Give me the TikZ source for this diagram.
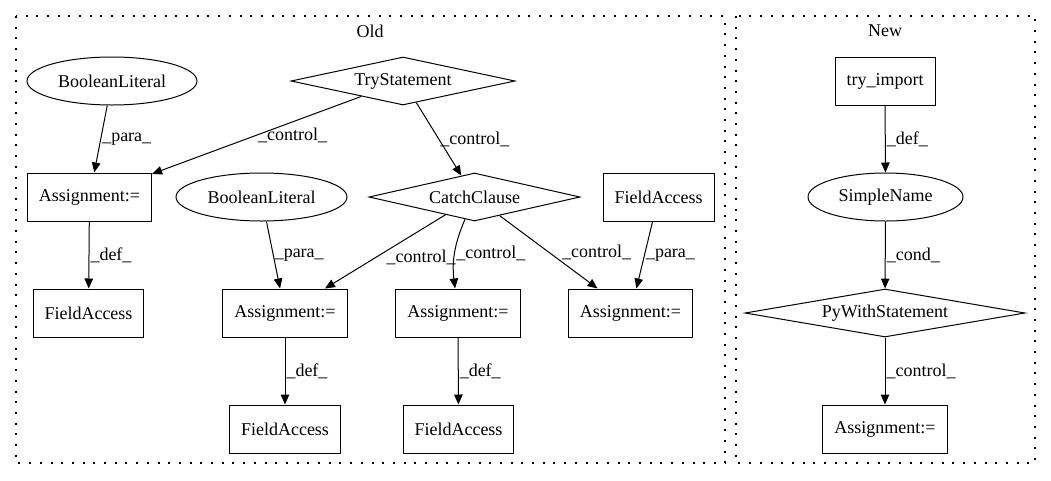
\documentclass[tikz,border=0pt]{standalone}
\usepackage{fontspec}
\setmainfont{Liberation Serif}
\usetikzlibrary{shapes.geometric,arrows.meta}

\begin{document}
\begin{tikzpicture}[x=1pt,y=-1pt,line width=1pt,
        font=\fontsize{18}{20}\selectfont,
        box/.style={draw,rectangle,inner xsep=11.5pt,minimum height=48pt},
        oval/.style={draw,ellipse,inner sep=0pt,minimum height=48pt},
        decision/.style={draw,diamond,aspect=4,inner sep=0pt,minimum height=48pt},
        flow/.style={-{Triangle[length=10pt,width=8.5pt]}},
        lbl/.style={right,inner sep=1pt},
        cluster/.style={line width=1.2pt,dash pattern=on 2pt off 8.7pt}]
        \useasboundingbox (0,0) rectangle (1051,480);

        % Draw the clusters
        \draw[cluster] (16,16) rectangle (725,463);
        \node (old) at (370,31) {Old};
        \draw[cluster] (736,16) rectangle (1035,463);
        \node (new) at (885,31) {New};

        % Draw the old nodes
        \node[oval, minimum width=170pt] (bool1) at (112,81) {BooleanLiteral};
        \node[decision, minimum width=224pt] (try) at (403,81) {TryStatement};
        \node[box] (assign1) at (89.5,197) {Assignment:=};
        \node[oval, minimum width=171pt] (bool2) at (261.5,197) {BooleanLiteral};
        \node[decision, minimum width=211pt] (catch) at (474.5,197) {CatchClause};
        \node[box] (field0) at (658.5,197) {FieldAccess};
        \node[box] (field1) at (88.5,313) {FieldAccess};
        \node[box] (assign2) at (285,313) {Assignment:=};
        \node[box] (assign3) at (458,313) {Assignment:=};
        \node[box] (assign4) at (630.5,313) {Assignment:=};
        \node[box] (field2) at (285,429) {FieldAccess};
        \node[box] (field3) at (458.5,429) {FieldAccess};

        % Draw the new nodes
        \node[box] (tryimp) at (885,81) {try\_import};
        \node[oval, minimum width=155pt] (simple) at (885.5,197) {SimpleName};
        \node[decision, minimum width=280pt] (pywith) at (885,313) {PyWithStatement};
        \node[box] (assign5) at (885,429) {Assignment:=};

        % Draw the edges
        \foreach \a/\b/\t in {bool1/assign1/para, try/assign1/control,
                try/catch/control, assign1/field1/def, bool2/assign2/para,
                field0/assign4/para,
                assign2/field2/def, assign3/field3/def, tryimp/simple/def,
                simple/pywith/cond, pywith/assign5/control}
            \draw[flow] (\a) -- (\b) node[lbl,midway] {\_\t\_};
        \draw[flow] (catch) -- node[lbl,midway,yshift=-6pt] {\_control\_} (assign2);
        \draw[flow] (catch) -- node[lbl,midway,xshift=12pt] {\_control\_} (assign4);
        \draw[flow] (catch) to[bend right=15] node[lbl,midway] {\_control\_} (assign3);
\end{tikzpicture}
\end{document}
